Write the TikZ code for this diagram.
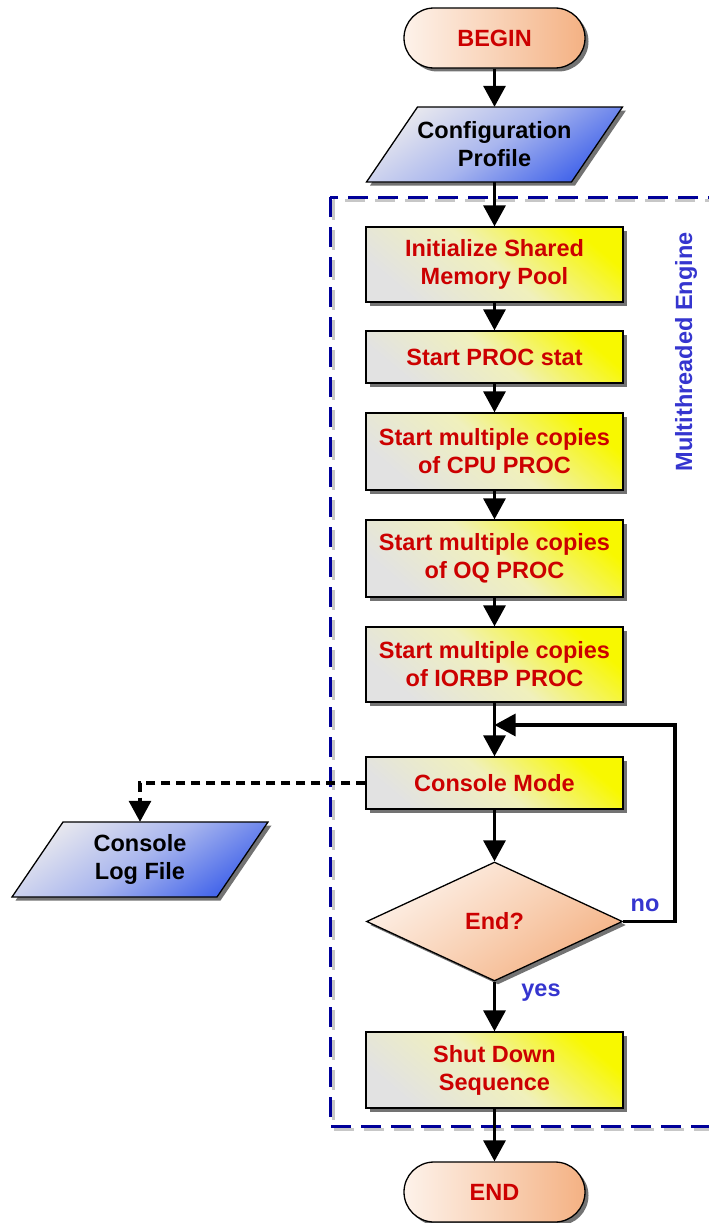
\documentclass[tikz,border=0pt]{standalone}
\usepackage{fontspec}
\setmainfont{Liberation Sans}
\usetikzlibrary{arrows.meta,shapes.geometric,shadows}
\definecolor{txtred}{HTML}{CC0000}
\definecolor{txtblue}{HTML}{3535CF}
\definecolor{frameblue}{HTML}{000099}
\definecolor{peach}{HTML}{F4B183}
\definecolor{peachmid}{HTML}{F9D3B8}
\definecolor{peachlight}{HTML}{FDF2EA}
\definecolor{pblue}{HTML}{4163EA}
\definecolor{pbluemid}{HTML}{A9B6EE}
\definecolor{pbluelight}{HTML}{E8E8EE}
\definecolor{boxyellow}{HTML}{F8F800}
\definecolor{boxmid}{HTML}{F0F0BC}
\definecolor{boxgray}{HTML}{E2E2E2}
\tikzset{
  shad/.style={drop shadow={shadow xshift=3.5pt, shadow yshift=-3.5pt, fill=black!55, opacity=1}},
  base/.style={draw=black, line width=1.3pt, align=center, inner sep=0pt,
    font=\fontsize{23.5}{28}\selectfont\bfseries, shad},
  term/.style={base, rectangle, rounded corners=30pt, minimum width=181pt, minimum height=60pt,
    left color=peachlight, right color=peach, middle color=peachmid, text=txtred},
  iofill/.style={draw=black, line width=1.3pt, shad,
    top color=pbluelight, bottom color=pblue, middle color=pbluemid, shading angle=35},
  iotext/.style={rectangle, align=center, inner sep=0pt, minimum width=256pt, minimum height=75pt,
    font=\fontsize{23.5}{28}\selectfont\bfseries, text=black},
  proc/.style={base, rectangle, minimum width=257pt,
    top color=boxyellow, bottom color=boxgray, middle color=boxmid, shading angle=-40, text=txtred},
  decis/.style={base, diamond, minimum width=256pt, minimum height=119pt, aspect=2.15,
    top color=peachlight, bottom color=peach, middle color=peachmid, shading angle=35, text=txtred},
  arr/.style={line width=3.2pt, -{Triangle[width=22pt,length=21pt]}},
  darr/.style={arr, dash pattern=on 9pt off 6pt},
  frame/.style={draw=frameblue, line width=3pt, dash pattern=on 20pt off 10pt},
  framesh/.style={draw=black!22, line width=3pt, dash pattern=on 20pt off 10pt},
  lbl/.style={text=txtblue, font=\fontsize{23.5}{28}\selectfont\bfseries, inner sep=0pt}
}
\newcommand\ioshape[4]{%
  \path[iofill] (#2-128,#3+37.5) -- (#2+77,#3+37.5) -- (#2+128,#3-37.5) -- (#2-77,#3-37.5) -- cycle;
  \node[iotext] (#1) at (#2,#3) {#4};}
\begin{document}
\begin{tikzpicture}[x=1pt,y=-1pt]
\useasboundingbox (0,0) rectangle (709,1223);
\clip (0,0) rectangle (709,1223);
% frame
\draw[framesh] (333,200) rectangle (740,1129);
\draw[frame] (330,197) rectangle (740,1126);
\node[lbl, rotate=90] (engine) at (686,352) {Multithreaded Engine};
% nodes
\node[term] (begin) at (494.5,38) {BEGIN};
\ioshape{cfg}{494.5}{144.5}{Configuration\\Profile}
\node[proc, minimum height=75pt] (init) at (494.5,264.5) {Initialize Shared\\Memory Pool};
\node[proc, minimum height=52pt] (stat) at (494.5,357) {Start PROC stat};
\node[proc, minimum height=77pt] (cpu) at (494.5,451.5) {Start multiple copies\\of CPU PROC};
\node[proc, minimum height=77pt] (oq) at (494.5,558.5) {Start multiple copies\\of OQ PROC};
\node[proc, minimum height=75pt] (iorbp) at (494.5,664.5) {Start multiple copies\\of IORBP PROC};
\node[proc, minimum height=52pt] (cm) at (494.5,783) {Console Mode};
\node[decis] (dec) at (494.5,921.5) {End?};
\node[proc, minimum height=76pt] (shut) at (494.5,1070) {Shut Down\\Sequence};
\node[term] (end) at (494.5,1192) {END};
\ioshape{clf}{140}{859.5}{Console\\Log File}
\node[lbl] (no) at (645,905) {no};
\node[lbl] (yes) at (541,993) {yes};
% connectors
\draw[arr] (begin) -- (cfg);
\draw[arr] (cfg) -- (init);
\draw[arr] (init) -- (stat);
\draw[arr] (stat) -- (cpu);
\draw[arr] (cpu) -- (oq);
\draw[arr] (oq) -- (iorbp);
\draw[arr] (iorbp) -- (cm);
\draw[arr] (cm) -- (dec);
\draw[arr] (dec) -- (shut);
\draw[arr] (shut) -- (end);
\coordinate (lp) at (675,725);
\coordinate (jn) at (494.5,725);
\draw[arr] (dec.east) -| (lp) -- (jn);
\draw[darr] (cm.west) -| (clf.north);
\end{tikzpicture}
\end{document}
